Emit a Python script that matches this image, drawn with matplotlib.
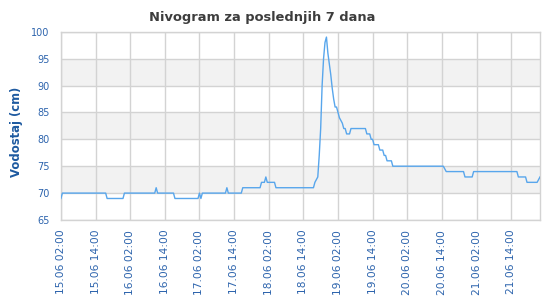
import pandas as pd
import matplotlib
matplotlib.use("Agg")
import matplotlib.pyplot as plt
import matplotlib.dates as mdates

# readings (time, water level in cm)
times = [
    "15.06 02:00", "15.06 02:30", "15.06 17:30", "15.06 18:00", "15.06 23:30",
    "16.06 00:00", "16.06 10:30", "16.06 11:00", "16.06 11:30", "16.06 17:00",
    "16.06 17:30", "17.06 01:30", "17.06 02:00", "17.06 02:30", "17.06 03:00",
    "17.06 11:00", "17.06 11:30", "17.06 12:00", "17.06 16:30", "17.06 17:00",
    "17.06 23:00", "17.06 23:30", "18.06 00:30", "18.06 01:00", "18.06 01:30",
    "18.06 04:00", "18.06 04:30", "18.06 17:30", "18.06 18:00", "18.06 18:30",
    "18.06 19:00", "18.06 19:30", "18.06 20:00", "18.06 20:30", "18.06 21:00",
    "18.06 21:30", "18.06 22:00", "18.06 22:30", "18.06 23:00", "18.06 23:30",
    "19.06 00:00", "19.06 00:30", "19.06 01:00", "19.06 01:30", "19.06 02:00",
    "19.06 02:30", "19.06 03:00", "19.06 03:30", "19.06 04:00", "19.06 04:30",
    "19.06 05:00", "19.06 06:00", "19.06 06:30", "19.06 11:30", "19.06 12:00",
    "19.06 13:00", "19.06 13:30", "19.06 14:00", "19.06 14:30", "19.06 16:00",
    "19.06 16:30", "19.06 17:30", "19.06 18:00", "19.06 18:30", "19.06 19:00",
    "19.06 20:30", "19.06 21:00", "20.06 14:30", "20.06 15:30", "20.06 21:30",
    "20.06 22:00", "21.06 00:30", "21.06 01:00", "21.06 16:00", "21.06 16:30",
    "21.06 19:00", "21.06 19:30", "21.06 23:00", "22.06 00:00",
]
levels = [
    69, 70, 70, 69, 69,
    70, 70, 71, 70, 70,
    69, 69, 70, 69, 70,
    70, 71, 70, 70, 71,
    71, 72, 72, 73, 72,
    72, 71, 71, 72, 72.5,
    73, 77, 82, 90, 95,
    98, 99, 96, 94, 92,
    89.5, 87.5, 86, 86, 85,
    84, 83.5, 83, 82, 82,
    81, 81, 82, 82, 81,
    81, 80, 80, 79, 79,
    78, 78, 77, 77, 76,
    76, 75, 75, 74, 74,
    73, 73, 74, 74, 73,
    73, 72, 72, 73,
]
tick_times = ["15.06 02:00", "15.06 14:00", "16.06 02:00", "16.06 14:00",
              "17.06 02:00", "17.06 14:00", "18.06 02:00", "18.06 14:00",
              "19.06 02:00", "19.06 14:00", "20.06 02:00", "20.06 14:00",
              "21.06 02:00", "21.06 14:00"]

def parse(s):
    # year is not shown on the chart, any will do
    return pd.to_datetime(["2024." + x for x in s], format="%Y.%d.%m %H:%M")

t = parse(times)
ticks = parse(tick_times)

label_blue = "#2d64ad"
grid_col = "#d3d3d3"

fig = plt.figure(figsize=(5.5, 3.0), dpi=100)
ax = fig.add_axes([60.7 / 550, 1 - 220 / 300, (540 - 60.7) / 550, (220 - 31.7) / 300])

# alternating bands
for lo in (70, 80, 90):
    ax.axhspan(lo, lo + 5, color="#f2f2f2", zorder=0, lw=0)

ax.plot(t, levels, color="#58a6ec", lw=1, zorder=3)

ax.set_ylim(65, 100)
ax.set_yticks(range(65, 101, 5))
ax.set_xlim(parse(["15.06 01:55"])[0], parse(["22.06 00:00"])[0])
ax.set_xticks(ticks)
ax.xaxis.set_major_formatter(mdates.DateFormatter("%d.%m %H:%M"))

ax.grid(True, color=grid_col, lw=1, zorder=1)
ax.set_axisbelow(True)
for sp in ax.spines.values():
    sp.set_color(grid_col)
    sp.set_linewidth(1)

ax.tick_params(axis="y", length=0, pad=8, labelsize=7, labelcolor=label_blue)
ax.tick_params(axis="x", length=0, pad=7, labelsize=7.7, labelcolor=label_blue,
               labelrotation=90)

fig.text(261.7 / 550, 1 - 21.5 / 300, "Nivogram za poslednjih 7 dana",
         ha="center", va="baseline", fontsize=9.4, fontweight="bold", color="#3d3d3d")
fig.text(17 / 550, 1 - 132 / 300, "Vodostaj (cm)", rotation=90, ha="center",
         va="center", fontsize=8.4, fontweight="bold", color="#1e5aa0")

fig.savefig("out.png", dpi=100)
